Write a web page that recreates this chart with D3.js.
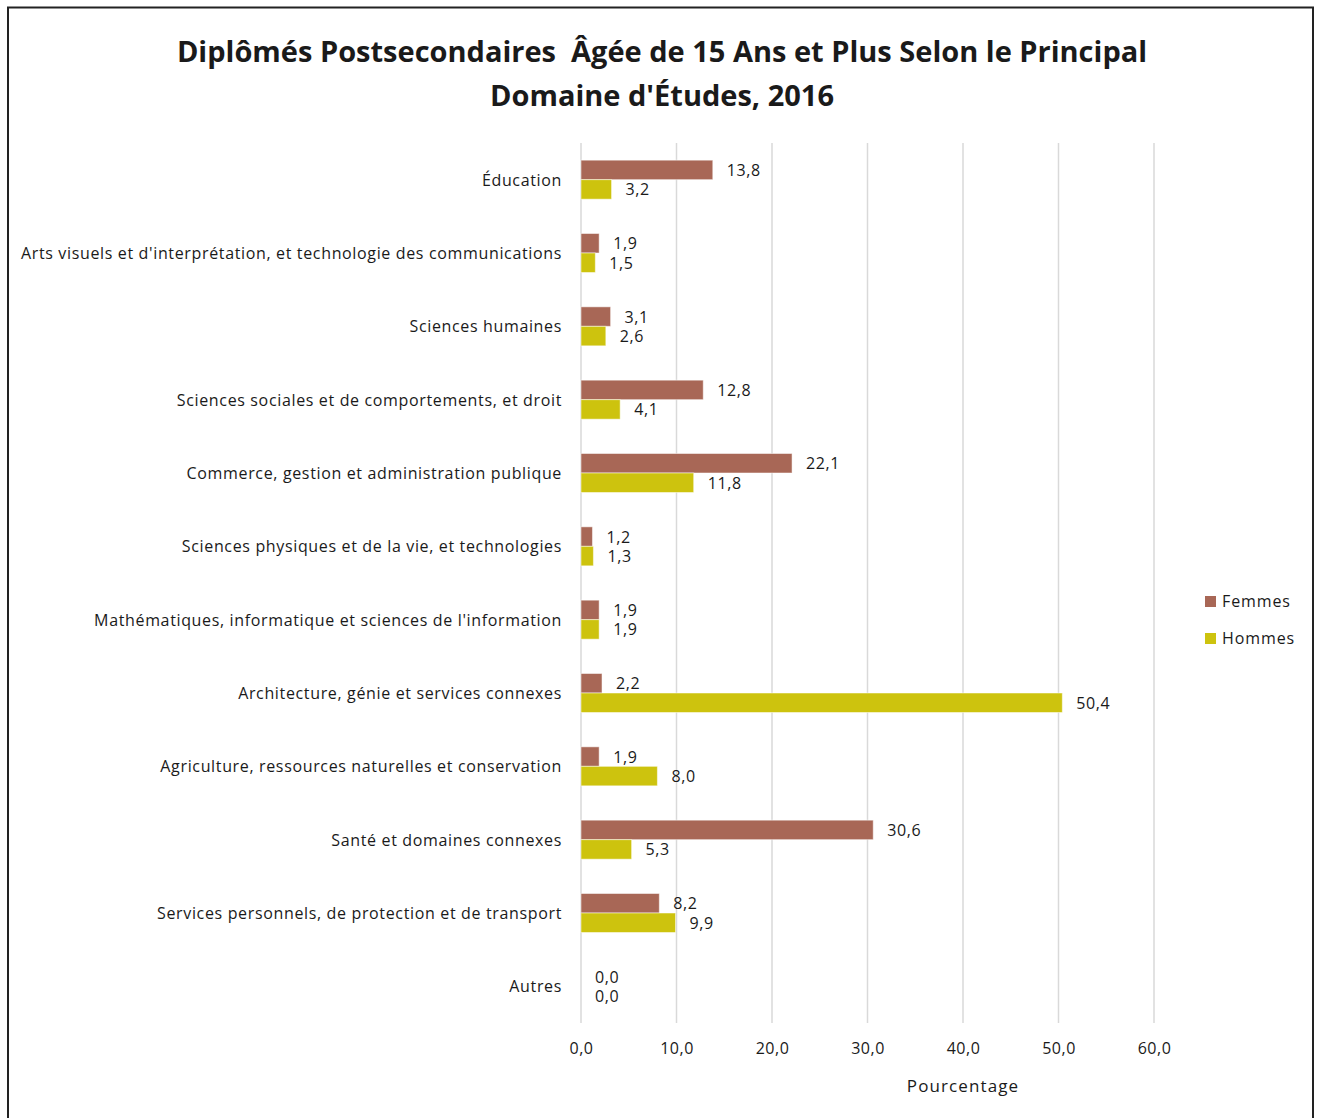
<!DOCTYPE html>
<html>
<head>
<meta charset="utf-8">
<script src="https://cdn.jsdelivr.net/npm/d3@7"></script>
<style>
  body { margin: 0; background: #fff; }
  svg text { font-family: "Open Sans", sans-serif; fill: #1a1a1a; }
</style>
</head>
<body>
<div id="chart"></div>
<script>
// data
var categories = [
	"Éducation",
	"Arts visuels et d'interprétation, et technologie des communications",
	"Sciences humaines",
	"Sciences sociales et de comportements, et droit",
	"Commerce, gestion et administration publique",
	"Sciences physiques et de la vie, et technologies",
	"Mathématiques, informatique et sciences de l'information",
	"Architecture, génie et services connexes",
	"Agriculture, ressources naturelles et conservation",
	"Santé et domaines connexes",
	"Services personnels, de protection et de transport",
	"Autres"
];
var femmes = [13.8, 1.9, 3.1, 12.8, 22.1, 1.2, 1.9, 2.2, 1.9, 30.6, 8.2, 0.0];
var hommes = [3.2, 1.5, 2.6, 4.1, 11.8, 1.3, 1.9, 50.4, 8.0, 5.3, 9.9, 0.0];
var seriesNames = ["Femmes", "Hommes"];
var xTicks = [0, 10, 20, 30, 40, 50, 60];

var palate = ['#a86756', '#cdc30e'];

function drawChart(chartarea) {
	var W = 1319, H = 1118;
	var margin = {left: 581, right: 166, top: 143, bottom: 95};

	var svg = d3.select(chartarea)
		.append("svg")
			.attr("width", W)
			.attr("height", H);

	// outer frame
	svg.append("rect")
		.attr("x", 8)
		.attr("y", 7.5)
		.attr("width", 1305)
		.attr("height", 1130)
		.attr("fill", "none")
		.attr("stroke", "#222")
		.attr("stroke-width", 2);

	// title
	var title = svg.append("text")
		.attr("x", 662)
		.attr("text-anchor", "middle")
		.attr("font-size", "29px")
		.attr("font-weight", "bold")
		.style("white-space", "pre");
	title.append("tspan").attr("x", 662).attr("y", 62)
		.text("Diplômés Postsecondaires  Âgée de 15 Ans et Plus Selon le Principal");
	title.append("tspan").attr("x", 662).attr("y", 106)
		.text("Domaine d'Études, 2016");

	var canvas = svg.append("g")
		.attr("transform", "translate(" + margin.left + ", " + margin.top + ")");

	var x = d3.scaleLinear()
		.domain([0, 60])
		.range([0, 573]);

	var y = d3.scaleBand()
		.domain(categories)
		.range([0, 880]);

	var inner = d3.scaleBand()
		.domain(seriesNames)
		.range([y.bandwidth() / 2 - 19.5, y.bandwidth() / 2 + 19.5]);

	var color = d3.scaleOrdinal().domain(seriesNames).range(palate);

	// gridlines
	canvas.selectAll(".grid")
		.data(xTicks)
		.enter().append("line")
			.attr("class", "grid")
			.attr("x1", function(d){ return x(d) })
			.attr("x2", function(d){ return x(d) })
			.attr("y1", 0)
			.attr("y2", 880)
			.attr("stroke", "#d9d9d9")
			.attr("stroke-width", 1.5);

	// x axis labels
	var xAxisCall = d3.axisBottom(x)
		.tickValues(xTicks)
		.tickSize(0)
		.tickFormat(function(d){ return d3.format(".1f")(d).replace(".", ",") });
	var xAxis = canvas.append("g")
		.attr("transform", "translate(0," + 880 + ")")
		.call(xAxisCall);
	xAxis.select(".domain").remove();
	xAxis.selectAll("text")
		.attr("y", 20)
		.attr("font-size", "16px")
		.attr("fill", "#1a1a1a")
		.style("letter-spacing", "0.5px")
		.style("font-family", "'Open Sans', sans-serif");

	// x label
	canvas.append("text")
		.attr("x", x(40))
		.attr("y", 949)
		.attr("font-size", "17px")
		.attr("text-anchor", "middle")
		.style("letter-spacing", "1.1px")
		.text("Pourcentage");

	// category labels
	canvas.selectAll(".cat")
		.data(categories)
		.enter().append("text")
			.attr("class", "cat")
			.attr("x", -19)
			.attr("y", function(d){ return y(d) + y.bandwidth() / 2 + 6 })
			.attr("text-anchor", "end")
			.attr("font-size", "16px")
			.style("letter-spacing", "0.65px")
			.text(function(d){ return d });

	var rows = [];
	categories.forEach(function(c, i){
		rows.push({cat: c, series: "Femmes", value: femmes[i]});
		rows.push({cat: c, series: "Hommes", value: hommes[i]});
	});

	canvas.selectAll(".bar")
		.data(rows)
		.enter().append("rect")
			.attr("class", "bar")
			.attr("x", x(0))
			.attr("y", function(d){ return y(d.cat) + inner(d.series) })
			.attr("width", function(d){ return x(d.value) - x(0) })
			.attr("height", inner.bandwidth())
			.attr("fill", function(d){ return color(d.series) })
			.attr("stroke", "#fff")
			.attr("stroke-opacity", 0.5)
			.attr("stroke-width", 1);

	canvas.selectAll(".val")
		.data(rows)
		.enter().append("text")
			.attr("class", "val")
			.attr("x", function(d){ return x(d.value) + 14 })
			.attr("y", function(d){ return y(d.cat) + inner(d.series) + inner.bandwidth() / 2 + 6 })
			.attr("font-size", "16px")
			.style("letter-spacing", "0.6px")
			.text(function(d){ return d3.format(".1f")(d.value).replace(".", ",") });

	// legend
	var legend = svg.append("g")
		.attr("transform", "translate(1205, 596)");
	seriesNames.forEach(function(s, i){
		var legendRow = legend.append("g")
			.attr("transform", "translate(0," + (i * 37) + ")");
		legendRow.append("rect")
			.attr("width", 11)
			.attr("height", 11)
			.attr("fill", color(s));
		legendRow.append("text")
			.attr("x", 17)
			.attr("y", 11)
			.attr("font-size", "16px")
			.style("letter-spacing", "0.9px")
			.text(s);
	});
}

drawChart("#chart");
</script>
</body>
</html>
